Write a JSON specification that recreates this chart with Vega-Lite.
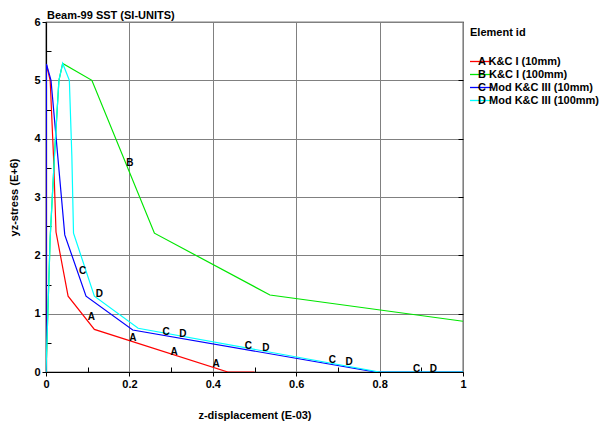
{
  "$schema": "https://vega.github.io/schema/vega-lite/v6.json",
  "width": 417,
  "height": 350,
  "autosize": {"type": "none"},
  "padding": {"left": 46, "top": 22, "right": 140, "bottom": 51},
  "background": "white",
  "title": {"text": "Beam-99 SST (SI-UNITS)", "anchor": "start", "frame": "group", "font": "Liberation Sans", "fontSize": 11, "fontWeight": "bold", "color": "black", "offset": 0, "dy": 5, "dx": 1},
  "config": {
    "view": {"stroke": "black", "strokeWidth": 1.2},
    "axis": {"labelFont": "Liberation Sans", "labelFontSize": 11, "labelFontWeight": "bold", "labelColor": "black", "titleFont": "Liberation Sans", "titleFontSize": 11, "titleFontWeight": "bold", "titleColor": "black", "domainColor": "black", "domainWidth": 1.2, "tickColor": "black", "gridWidth": 1},
    "legend": {"labelFont": "Liberation Sans", "titleFont": "Liberation Sans"}
  },
  "datasets": {
    "curves": [
      {"id": "A", "o": 0, "x": 0, "y": 0},
      {"id": "A", "o": 1, "x": 0.001, "y": 5.27},
      {"id": "A", "o": 2, "x": 0.01, "y": 5.0},
      {"id": "A", "o": 3, "x": 0.018, "y": 3.7},
      {"id": "A", "o": 4, "x": 0.024, "y": 2.4},
      {"id": "A", "o": 5, "x": 0.053, "y": 1.3},
      {"id": "A", "o": 6, "x": 0.116, "y": 0.73},
      {"id": "A", "o": 7, "x": 0.436, "y": 0},
      {"id": "A", "o": 8, "x": 0.5, "y": 0},
      {"id": "B", "o": 0, "x": 0, "y": 0},
      {"id": "B", "o": 1, "x": 0.01, "y": 2.3},
      {"id": "B", "o": 2, "x": 0.021, "y": 3.8},
      {"id": "B", "o": 3, "x": 0.031, "y": 5.0},
      {"id": "B", "o": 4, "x": 0.04, "y": 5.29},
      {"id": "B", "o": 5, "x": 0.11, "y": 5.0},
      {"id": "B", "o": 6, "x": 0.26, "y": 2.38},
      {"id": "B", "o": 7, "x": 0.537, "y": 1.32},
      {"id": "B", "o": 8, "x": 1.0, "y": 0.87},
      {"id": "C", "o": 0, "x": 0, "y": 0},
      {"id": "C", "o": 1, "x": 0.001, "y": 5.28},
      {"id": "C", "o": 2, "x": 0.012, "y": 5.0},
      {"id": "C", "o": 3, "x": 0.045, "y": 2.35},
      {"id": "C", "o": 4, "x": 0.096, "y": 1.3},
      {"id": "C", "o": 5, "x": 0.208, "y": 0.72},
      {"id": "C", "o": 6, "x": 0.79, "y": 0},
      {"id": "C", "o": 7, "x": 1.0, "y": 0},
      {"id": "D", "o": 0, "x": 0, "y": 0},
      {"id": "D", "o": 1, "x": 0.01, "y": 2.3},
      {"id": "D", "o": 2, "x": 0.021, "y": 3.8},
      {"id": "D", "o": 3, "x": 0.031, "y": 5.0},
      {"id": "D", "o": 4, "x": 0.04, "y": 5.29},
      {"id": "D", "o": 5, "x": 0.056, "y": 5.0},
      {"id": "D", "o": 6, "x": 0.062, "y": 3.7},
      {"id": "D", "o": 7, "x": 0.066, "y": 2.38},
      {"id": "D", "o": 8, "x": 0.116, "y": 1.3},
      {"id": "D", "o": 9, "x": 0.221, "y": 0.75},
      {"id": "D", "o": 10, "x": 0.8, "y": 0},
      {"id": "D", "o": 11, "x": 1.0, "y": 0}
    ],
    "marks": [
      {"t": "A", "x": 0.109, "y": 0.94},
      {"t": "A", "x": 0.208, "y": 0.59},
      {"t": "A", "x": 0.307, "y": 0.35},
      {"t": "A", "x": 0.408, "y": 0.13},
      {"t": "B", "x": 0.201, "y": 3.58},
      {"t": "C", "x": 0.088, "y": 1.73},
      {"t": "C", "x": 0.288, "y": 0.68},
      {"t": "C", "x": 0.485, "y": 0.45},
      {"t": "C", "x": 0.687, "y": 0.21},
      {"t": "C", "x": 0.889, "y": 0.05},
      {"t": "D", "x": 0.128, "y": 1.34},
      {"t": "D", "x": 0.328, "y": 0.66},
      {"t": "D", "x": 0.527, "y": 0.41},
      {"t": "D", "x": 0.727, "y": 0.17},
      {"t": "D", "x": 0.929, "y": 0.05}
    ]
  },
  "layer": [
    {
      "data": {"name": "curves"},
      "mark": {"type": "line", "strokeWidth": 1.2, "clip": true},
      "encoding": {
        "x": {"field": "x", "type": "quantitative", "scale": {"domain": [0, 1], "nice": false, "zero": false},
          "axis": {"values": [0, 0.1, 0.2, 0.3, 0.4, 0.5, 0.6, 0.7, 0.8, 0.9, 1.0],
            "labelExpr": "round(datum.value*10) % 2 == 0 ? format(datum.value, '~g') : ''",
            "grid": true,
            "gridColor": {"condition": {"test": "round(datum.value*10) % 2 == 1", "value": "rgba(0,0,0,0)"}, "value": "#808080"},
            "tickSize": {"condition": {"test": "round(datum.value*10) % 2 == 1", "value": -5}, "value": 4},
            "labelPadding": 2, "labelFlush": false, "labelOverlap": false,
            "title": "z-displacement (E-03)", "titlePadding": 20}},
        "y": {"field": "y", "type": "quantitative", "scale": {"domain": [0, 6], "nice": false},
          "axis": {"values": [0, 0.5, 1, 1.5, 2, 2.5, 3, 3.5, 4, 4.5, 5, 5.5, 6],
            "labelExpr": "datum.value % 1 == 0 ? format(datum.value, '~g') : ''",
            "grid": true,
            "gridColor": {"condition": {"test": "datum.value % 1 != 0", "value": "rgba(0,0,0,0)"}, "value": "#808080"},
            "tickSize": {"condition": {"test": "datum.value % 1 != 0", "value": -5}, "value": 4},
            "labelPadding": 2, "labelFlush": false, "labelOverlap": false,
            "title": "yz-stress (E+6)", "titlePadding": 14}},
        "color": {"field": "id", "type": "nominal",
          "scale": {"domain": ["A", "B", "C", "D"], "range": ["#ff0000", "#00e600", "#0000ff", "#00ffff"]},
          "legend": {"title": "Element id", "orient": "none", "legendX": 424, "legendY": 5,
            "titleFontSize": 11, "titleFontWeight": "bold", "titleColor": "black", "titlePadding": 17,
            "labelFontSize": 11, "labelFontWeight": "bold", "labelColor": "black",
            "symbolType": "stroke", "symbolStrokeWidth": 1.3,
            "clipHeight": 13, "rowPadding": 0,
            "encode": {
              "symbols": {"update": {"size": {"value": 484}, "xc": {"value": 11}}},
              "labels": {"update": {"dx": {"value": -20}}}
            },
            "labelExpr": "datum.label == 'A' ? 'A   K&C I (10mm)' : datum.label == 'B' ? 'B   K&C I (100mm)' : datum.label == 'C' ? 'C   Mod K&C III (10mm)' : 'D   Mod K&C III (100mm)'"}},
        "order": {"field": "o", "type": "quantitative"}
      }
    },
    {
      "data": {"name": "marks"},
      "mark": {"type": "text", "font": "Liberation Sans", "fontSize": 10, "fontWeight": "bold", "color": "black", "baseline": "middle", "align": "center"},
      "encoding": {
        "x": {"field": "x", "type": "quantitative"},
        "y": {"field": "y", "type": "quantitative",
          "axis": {"orient": "right", "values": [1, 2, 3, 4, 5], "labels": false, "domain": false, "grid": false, "tickSize": -5, "title": null}},
        "text": {"field": "t", "type": "nominal"}
      }
    }
  ],
  "resolve": {"axis": {"y": "independent"}}
}
